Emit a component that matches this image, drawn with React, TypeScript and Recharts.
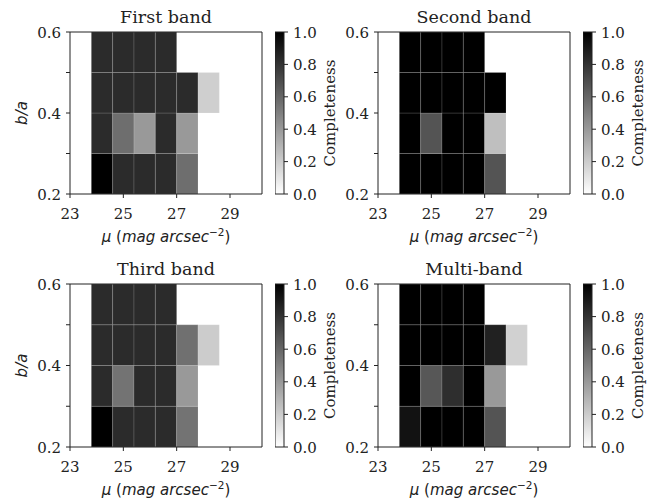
import { ComposedChart, ReferenceArea, XAxis, YAxis } from 'recharts';

// bin edges of the completeness maps
const muEdges = [23.8, 24.6, 25.4, 26.2, 27.0, 27.8, 28.6];
const baEdges = [0.2, 0.3, 0.4, 0.5, 0.6];
const muTicks = [23, 25, 27, 29];
const baTicks = [0.2, 0.3, 0.4, 0.5, 0.6];
const cbarTicks = [0, 0.2, 0.4, 0.6, 0.8, 1.0];

// completeness per bin, rows from b/a = 0.2 upward, null = empty bin
const firstBand = [
  [1.0, 0.83, 0.83, 0.83, 0.57, null],
  [0.83, 0.57, 0.4, 0.83, 0.4, null],
  [0.83, 0.83, 0.83, 0.83, 0.83, 0.19],
  [0.83, 0.83, 0.83, 0.83, null, null],
];
const secondBand = [
  [1.0, 1.0, 1.0, 1.0, 0.67, null],
  [1.0, 0.67, 1.0, 1.0, 0.25, null],
  [1.0, 1.0, 1.0, 1.0, 1.0, null],
  [1.0, 1.0, 1.0, 1.0, null, null],
];
const thirdBand = [
  [1.0, 0.83, 0.83, 0.83, 0.55, null],
  [0.83, 0.55, 0.83, 0.83, 0.4, null],
  [0.83, 0.83, 0.83, 0.83, 0.56, 0.2],
  [0.83, 0.83, 0.83, 0.83, null, null],
];
const multiBand = [
  [0.93, 1.0, 1.0, 1.0, 0.67, null],
  [1.0, 0.66, 0.82, 1.0, 0.4, null],
  [1.0, 1.0, 1.0, 1.0, 0.87, 0.18],
  [1.0, 1.0, 1.0, 1.0, null, null],
];

const panels = [
  { title: 'First band', grid: firstBand, left: 70, top: 32, height: 162, yLabel: true },
  { title: 'Second band', grid: secondBand, left: 378, top: 32, height: 162, yLabel: false },
  { title: 'Third band', grid: thirdBand, left: 70, top: 284, height: 163, yLabel: true },
  { title: 'Multi-band', grid: multiBand, left: 378, top: 284, height: 163, yLabel: false },
];

const PLOT_W = 192;
const SERIF = "'DejaVu Serif', serif";
const SANS = "'DejaVu Sans', sans-serif";
const INK = '#222';
const FS = 15;

const grayR = (v: number) => {
  const g = Math.round(255 * (1 - v));
  return `rgb(${g},${g},${g})`;
};

const MuTick = ({ x, y, payload }: any) => (
  <g>
    <line x1={x} x2={x} y1={y} y2={y + 4} stroke={INK} strokeWidth={1} />
    <text x={x} y={y + 25} textAnchor="middle" fontFamily={SERIF} fontSize={FS} fill={INK}>
      {payload.value}
    </text>
  </g>
);

const BaTick = ({ x, y, payload }: any) => {
  const major = [0.2, 0.4, 0.6].some((t) => Math.abs(t - payload.value) < 1e-6);
  return (
    <g>
      <line x1={x - 4} x2={x} y1={y} y2={y} stroke={INK} strokeWidth={1} />
      {major && (
        <text x={x - 9} y={y + 5.5} textAnchor="end" fontFamily={SERIF} fontSize={FS} fill={INK}>
          {payload.value.toFixed(1)}
        </text>
      )}
    </g>
  );
};

const CbarTick = ({ x, y, payload }: any) => (
  <g>
    <line x1={x} x2={x + 4} y1={y} y2={y} stroke={INK} strokeWidth={1} />
    <text x={x + 9} y={y + 5.5} textAnchor="start" fontFamily={SERIF} fontSize={FS} fill={INK}>
      {payload.value.toFixed(1)}
    </text>
  </g>
);

function Panel({ title, grid, left, top, height, yLabel }: any) {
  const cells: any[] = [];
  grid.forEach((row: (number | null)[], r: number) =>
    row.forEach((v, c) => {
      if (v === null) return;
      cells.push({ x1: muEdges[c], x2: muEdges[c + 1], y1: baEdges[r], y2: baEdges[r + 1], v });
    })
  );
  const cx = left + PLOT_W / 2;
  const gradId = `cbar-${left}-${top}`;
  return (
    <>
      <div style={{ position: 'absolute', left: left - 70, top: top - 32 }}>
        <ComposedChart
          width={70 + PLOT_W + 10}
          height={32 + height + 60}
          margin={{ top: 32, right: 10, bottom: 0, left: 0 }}
        >
          <XAxis
            type="number"
            dataKey="x"
            domain={[23, 30.2]}
            ticks={muTicks}
            allowDataOverflow
            axisLine={false}
            tickLine={false}
            tickSize={0}
            tickMargin={0}
            height={60}
            tick={<MuTick />}
          />
          <YAxis
            type="number"
            dataKey="y"
            domain={[0.2, 0.6]}
            ticks={baTicks}
            allowDataOverflow
            axisLine={false}
            tickLine={false}
            tickSize={0}
            tickMargin={0}
            width={70}
            tick={<BaTick />}
          />
          {cells.map((cell, i) => (
            <ReferenceArea
              key={i}
              x1={cell.x1}
              x2={cell.x2}
              y1={cell.y1}
              y2={cell.y2}
              fill={grayR(cell.v)}
              fillOpacity={1}
              stroke="rgba(255,255,255,0.18)"
              strokeWidth={0.8}
            />
          ))}
          <ReferenceArea x1={23} x2={30.2} y1={0.2} y2={0.6} fill="none" stroke={INK} strokeWidth={1} />
        </ComposedChart>
      </div>
      <div style={{ position: 'absolute', left: left + 205, top: top - 32 }}>
        <ComposedChart width={9 + 60} height={32 + height + 60} margin={{ top: 32, right: 0, bottom: 60, left: 0 }}>
          <defs>
            <linearGradient id={gradId} x1="0" y1="1" x2="0" y2="0">
              <stop offset="0%" stopColor="#ffffff" />
              <stop offset="100%" stopColor="#000000" />
            </linearGradient>
          </defs>
          <XAxis type="number" dataKey="x" domain={[0, 1]} allowDataOverflow hide height={0} />
          <YAxis
            type="number"
            dataKey="y"
            orientation="right"
            domain={[0, 1]}
            ticks={cbarTicks}
            allowDataOverflow
            axisLine={false}
            tickLine={false}
            tickSize={0}
            tickMargin={0}
            width={60}
            tick={<CbarTick />}
          />
          <ReferenceArea
            x1={0}
            x2={1}
            y1={0}
            y2={1}
            fill={`url(#${gradId})`}
            fillOpacity={1}
            stroke={INK}
            strokeWidth={1}
          />
        </ComposedChart>
      </div>
      <svg
        width={661}
        height={500}
        style={{ position: 'absolute', left: 0, top: 0, pointerEvents: 'none', overflow: 'visible' }}
      >
        <text x={cx} y={top - 9} textAnchor="middle" fontFamily={SERIF} fontSize={17.5} fill={INK}>
          {title}
        </text>
        <text x={cx} y={top + height + 48} textAnchor="middle" fontFamily={SANS} fontSize={15} fill={INK}>
          <tspan fontStyle="italic">μ</tspan>
          <tspan> (</tspan>
          <tspan fontStyle="italic">mag arcsec</tspan>
          <tspan dy={-6} fontSize={10.5}>−2</tspan>
          <tspan dy={6}>)</tspan>
        </text>
        {yLabel && (
          <text
            x={left - 43}
            y={top + height / 2}
            transform={`rotate(-90 ${left - 43} ${top + height / 2})`}
            textAnchor="middle"
            fontFamily={SANS}
            fontStyle="italic"
            fontSize={15}
            fill={INK}
          >
            b/a
          </text>
        )}
        <text
          x={left + 265}
          y={top + height / 2}
          transform={`rotate(-90 ${left + 265} ${top + height / 2})`}
          textAnchor="middle"
          fontFamily={SERIF}
          fontSize={15}
          fill={INK}
        >
          Completeness
        </text>
      </svg>
    </>
  );
}

export default function App() {
  return (
    <div style={{ position: 'absolute', left: 0, top: 0, width: 661, height: 500, background: '#fff' }}>
      {panels.map((p) => (
        <Panel key={p.title} {...p} />
      ))}
    </div>
  );
}
